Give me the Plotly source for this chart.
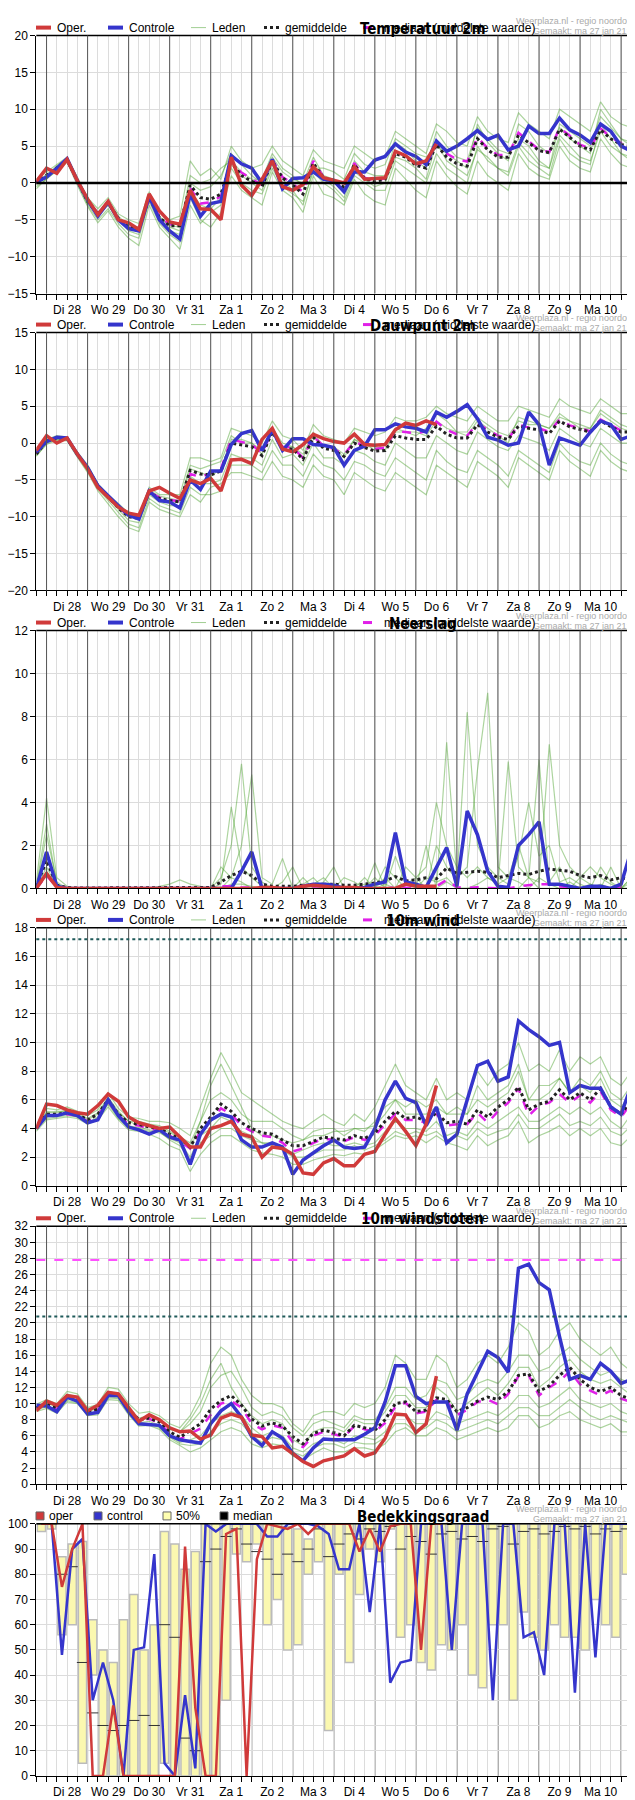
import plotly.graph_objects as go

W, H = 635, 1800
DAYS = ["Di 28","Wo 29","Do 30","Vr 31","Za 1","Zo 2","Ma 3","Di 4","Wo 5","Do 6","Vr 7","Za 8","Zo 9","Ma 10"]

# ---- Temperatuur 2m
T_ctrl = [0.1,0.8,2,3.3,0.3,-2.3,-4.5,-2.6,-5,-6.2,-6.5,-1.8,-5,-6.5,-7.6,-1.5,-4.5,-2.8,-2.5,3.7,2.6,2,0,3.2,-0.8,0.6,0.7,1.5,0.5,0.3,-1.2,1.5,1.5,3.1,3.6,5.3,4.2,3.6,2.5,5.7,4.3,5,6,7.1,5.9,6.5,4.5,5,7.7,6.7,6.7,8.8,7.2,6.5,5.5,8,7,5,4.3,6.5]
T_oper = [0.2,2,1.3,3.2,0.3,-2.2,-4.3,-2.5,-5,-5.4,-6.3,-1.5,-3.8,-5.3,-5.6,-1,-3.5,-3.6,-5,3.5,-0.3,-1.7,0.5,3,-0.5,-1,-0.2,2.2,0.7,0.4,0,2.2,0.5,0.6,0.7,4.3,3.7,2.6,3,5.3]
T_mean = [0,1,2,3.1,0.3,-2.5,-4.2,-2.7,-4.8,-6,-6.2,-2,-4.7,-5.8,-5.8,-0.3,-2,-2.2,-1.5,2.8,1,0.2,-0.5,3,0.7,-0.3,-1.5,2.7,0.7,0.3,-0.6,2.5,0.6,0.2,0.5,4,3.5,2.4,2,5.2,3.5,2.6,2.3,6,4.5,3.5,3.5,6.5,5.5,4.4,4.1,7.3,6.2,5,4.5,7.2,6,5.2,5,8]
T_med = [0,1.1,2,3.1,0.4,-2.4,-4.1,-2.6,-4.9,-6.1,-6,-2.2,-4.5,-5.6,-5.7,-0.7,-2.8,-2.6,-1.8,3,1.4,0.5,-0.3,3.2,0.8,-0.1,-1.2,3,0.8,0.4,-0.4,2.7,0.7,0.3,0.6,4.2,3.7,2.7,2.2,5.4,4,3.2,2.9,6.2,4.7,3.8,3.8,6.8,5.7,4.5,4.2,7.5,6.4,5.2,4.7,7.4,6.2,5.4,5.2,8.3]
T_members = [
    [0.5,1.5,2.5,3.5,0.8,-2,-3.5,-2,-4.2,-5,-5.5,-1.2,-4,-5,-4.5,3,1,2,0.5,5,3,2,2.5,5,3,2,1,4.5,3,2.5,2,5,4,3,3.5,7,6,5,4,8,7,5.5,5,9,7,6,5.5,9.5,8,7,6,10,9,8,7,11,9,8,7.5,10],
    [-0.5,0.5,1.8,3,0,-3,-5,-3.5,-5.5,-7,-7.5,-2.5,-5.5,-7,-8,-2,-5,-6,-4,1,-1,-2,-3,1.5,-1,-2,-4,1,-1.5,-2,-3,0.5,-1.5,-2.5,-3,2,0.5,-1,-2,3,1,-0.5,-1.5,3,1,0,-1,4,2,1,0.5,5,3,2,1.5,6,4,2.5,2,5],
    [0,1.2,2.2,3.2,0.5,-2.2,-4,-2.5,-4.5,-5.8,-6,-1.5,-4.5,-6,-6.5,0,-1,-0.5,1,4,2.5,1,0,3.5,1.5,0.5,0,3.5,1,0.5,-1,3,1.5,1,1,5.5,4.5,3,2,7,5,3.5,3,7.5,6,4.5,4,6,5,3,2,8,7,6,5,9,7.5,6,5.5,9],
    [0.2,1,2,3,0.2,-2.8,-4.5,-3,-5,-6.5,-7,-2.2,-5,-6.5,-7,-1,-3,-3.5,-2,2,0,-1,-1.5,2,-0.5,-1.5,-2.5,1.5,0,-1,-2.5,1,0,-1,-1,3,2,1,0,4,2,1,0,5,3,2,1.5,5.5,4,2.5,2,6.5,5,3.5,3,7,5,4,3,7],
    [-0.2,0.8,2.3,3.4,0.6,-2.4,-4.2,-2.8,-4.8,-6,-6.2,-1.8,-4.6,-5.8,-6,1,0,0.5,2,3,1.5,0.5,0.5,4,2,1,-0.5,2,2,1.5,0.5,4,2.5,2,2.5,6,5,4,3.5,5,4,3,2,8,5.5,4,3,8,7,5,4,7.5,6,5,4,10,8,6,5,11],
    [-0.8,0.6,1.6,2.8,-0.3,-3.2,-5.4,-3.8,-6,-7.5,-8.5,-3,-6,-7.5,-9,-3,-5.5,-4,-3,2.5,1,0,-1,2.5,0.5,-1,-3,2,0.5,-0.5,-2,1.5,0.5,-0.5,0,3.5,3,2,0.5,5.5,3,2,1,4.5,3.5,2,1,5,3,2,1,6,4,3,2.5,8,6,4,3.5,8],
]

# ---- Dauwpunt 2m
D_ctrl = [-1.2,0.2,0.8,0.7,-1.5,-3.3,-5.8,-7.2,-8.5,-9.8,-10.3,-6.5,-7.8,-8,-8.8,-5,-6.3,-3.8,-3.8,-0.2,1.3,1.7,-1,1.8,-1,0.6,0.6,-0.2,-0.3,-0.6,-3,-1,-0.4,1.8,1.8,2.6,2.2,2,1.5,4.2,3.5,4.3,5.2,3.3,0.8,0.4,-0.3,0,4.2,2.5,-3,0.7,0.2,-0.3,1.5,3,2.5,0.5,1,5.5]
D_oper = [-1,1,0,0.7,-1.5,-3.5,-6,-7.3,-8.7,-9.5,-9.8,-6.5,-6,-6.8,-7.5,-5,-5.5,-4.8,-6.5,-2.3,-2.2,-2.8,0.5,2,-0.8,-1.2,-0.2,1.2,0.6,0.2,0,1.2,-0.2,-0.3,-0.2,1.8,2.7,2.4,3,2.5]
D_mean = [-1.5,0.3,0.7,0.6,-1.5,-3.4,-5.8,-7.3,-8.8,-10,-10.2,-6.7,-7.5,-7.8,-8,-3.7,-4.2,-4.3,-3.8,0,-0.3,-0.5,-1.7,1.5,-0.7,-0.8,-2.2,0.8,-0.7,-1,-1.8,0,-0.6,-1.1,-1,1,0.7,0.5,0.5,2.3,1.2,0.7,0.7,2.5,1.5,0.8,0.5,2.3,2,1.8,1.3,3,2.2,1.8,1.5,3,2.2,1.5,1.5,3]
D_med = [-1.4,0.4,0.7,0.6,-1.5,-3.4,-5.8,-7.2,-8.7,-9.9,-10.1,-6.6,-7.4,-7.7,-7.9,-4.2,-4.6,-4.1,-3.5,0.5,0.1,-0.2,-1.4,1.7,-0.5,-0.6,-2,0.9,-0.4,-0.8,-1.6,0.2,-0.4,-0.8,-0.6,1.6,1.5,1.3,1.6,2.9,1.8,1.2,1,2.7,1.8,1,0.6,2.5,2.1,2,1.5,3.2,2.4,2,1.6,3.2,2.4,1.7,1.6,3.2]
D_members = [
    [-1,0.5,1,0.8,-1.2,-3,-5.5,-7,-8.2,-9.5,-9.8,-6,-7,-7,-7,-2,-2,-2.5,-2,2,1.5,1,0,3,1,0.5,-1,2.5,1,0.5,0,2,1.5,1,1.5,3.5,3,3,3.5,5,4,3.5,3,5,4,3,3,5,4.5,4,3.5,6,5,4.5,4,6,5,4,4,7],
    [-1.8,0,0.5,0.4,-1.8,-3.8,-6.2,-7.8,-9.5,-11,-11.5,-7.5,-8.5,-9,-9.5,-6,-7,-7,-6.5,-3,-3,-3,-4,-1,-3,-3,-4.5,-1.5,-3,-3.5,-5,-2.5,-3,-4,-4.5,-2,-3,-4,-5,-1,-2.5,-3.5,-4,-1,-2,-3,-4.5,-1,-2,-3,-4,0,-1.5,-2.5,-3,0,-1.5,-2.5,-3,0],
    [-1.4,0.4,0.9,0.7,-1.4,-3.2,-5.6,-7.1,-8.6,-9.8,-10,-6.4,-7.2,-7.5,-7.8,-3,-3.5,-3,-2.5,1,0,0,-1,2,0,-0.5,-1.5,1.5,-0.5,-0.5,-1.5,0.5,0,-1,0,2,1.5,1,2,4,3,1.5,1,3,2,1,0,3.5,3,2.5,2,4,3,2.5,2,4.5,3.5,2.5,2,5],
    [-1.6,0.1,0.6,0.5,-1.6,-3.6,-6,-7.5,-9,-10.5,-10.8,-7,-8,-8.5,-8.5,-4.5,-5.5,-5.5,-5,-1.5,-2,-2,-3,0.5,-2,-1.5,-3,0,-2,-2,-3,-1,-1.5,-2.5,-3,0,-1,-2,-2,1,0,-1,-1.5,1.5,0.5,-0.5,-1,1,0.5,0,-1,2,1,0,-0.5,2,1,0,0,2.5],
    [-1.3,0.3,0.8,0.6,-1.3,-3.3,-5.7,-7.2,-8.7,-10,-10.3,-6.7,-7.7,-8,-8,-3.5,-4,-4.5,-3.5,0.5,0.5,0,-1.5,1.5,-0.5,-0.5,-2,1,-0.5,-0.5,-2,0.5,-0.5,-0.5,-1,1.5,1.5,1.5,1,3,2,1.5,1.5,3.5,2.5,1.5,1,3,2.5,2.5,2,3.5,3,2,2,4,3,2,1.5,4],
    [-1.7,-0.2,0.4,0.3,-1.9,-4,-6.5,-8.2,-10,-11.5,-12,-8,-9,-9.5,-10,-7,-8,-6,-5.5,-4,-4,-4.5,-5,-2.5,-4.5,-5,-6,-3,-4.5,-5,-7,-4,-5,-6,-6.5,-4,-5,-6,-7,-3,-4,-5,-6,-2.5,-3.5,-4.5,-6,-2,-3,-4,-5,-1,-2.5,-3.5,-4.5,-1,-2.5,-3.5,-4,-1],
]

# ---- Neerslag
P_ctrl = [0,1.7,0.1,0,0,0,0,0,0,0,0,0,0,0,0,0,0,0,0,0,0.8,1.7,0,0,0,0,0.1,0.2,0.2,0.15,0,0,0.05,0.2,0.3,2.6,0.3,0.2,0.05,1,1.9,0.1,3.6,2.5,0.8,0.1,0.05,2,2.5,3.1,0.2,0.2,0.1,0,0.1,0.1,0,0.2,1.8,5.4]
P_oper = [0,0.7,0.05,0,0,0,0,0,0,0,0,0,0,0,0,0,0,0,0,0,0,0,0.05,0.05,0,0,0.1,0.15,0.1,0.05,0.05,0.05,0,0,0,0,0.2,0.1,0.1,0.1]
P_mean = [0.1,1.3,0.15,0.05,0.02,0.02,0.02,0.02,0.02,0.02,0.02,0.02,0.02,0.03,0.05,0.05,0.05,0.05,0.3,0.6,0.8,0.6,0.2,0.1,0.1,0.1,0.15,0.15,0.2,0.2,0.15,0.15,0.2,0.25,0.35,0.55,0.35,0.4,0.5,0.45,0.95,0.7,0.75,0.8,0.75,0.5,0.6,0.7,0.65,0.8,0.9,0.85,0.8,0.6,0.5,0.6,0.4,0.5,0.4,0.6]
P_med = [0,0.6,0.05,0,0,0,0,0,0,0,0,0,0,0,0,0,0,0,0.1,0.1,0.05,0.05,0,0,0,0,0.02,0.02,0.02,0.02,0,0,0,0,0,0.05,0.02,0.02,0.05,0.1,0.4,0.05,0.02,0.05,0.02,0,0,0.1,0.15,0.2,0.2,0.1,0.05,0,0.05,0.1,0,0.05,0.05,0.1]
P_members = [
    [0,2.5,0.3,0,0,0,0,0,0,0,0,0,0,0,0,0,0,0,0.5,2,5.8,1,0.3,0,0,0,0.5,0,0.3,1,0,0,0.5,0,1,0.5,0,0,2,0,6.8,0.5,1,5.5,9.1,1,0.5,2,0.5,6,0.3,1,0,0.5,0.2,0,1,0,0.5,1],
    [0.3,4.2,0.5,0.1,0,0,0,0,0,0,0,0,0.1,0.2,0.4,0.2,0.1,0,1,0.5,2,5.3,0.5,0.2,1.4,0,0.2,0.5,0,0,0.5,0.3,0,1.2,0,1.5,0.2,0.5,0,2,1,0.4,8.2,2,1,0.5,0.2,1.5,4,1.5,2,0.3,0.5,0.2,0,1,0.3,0,0.5,0.2],
    [0,1,0.1,0,0,0,0,0,0,0,0,0,0,0,0,0,0,0,0.2,3.8,1,0.5,0.1,0,0.3,1,0,0.2,0.5,0,0,0,0.2,0,0.5,0,1,0.5,1,4,2,1,0.5,1,0.5,0.2,5.9,1,0.5,0.3,6.7,2,1,0.5,1,0.5,0.2,0,0.3,0.5],
    [0.1,3,0.2,0,0,0,0,0,0,0,0,0,0,0,0,0,0,0,0,0.5,0.3,0,0,0,0,0,0,0,0,0.2,0,0,0,0.5,0,0,0,0,0.5,0.3,0.5,0,0,0.2,0.5,0.2,0.5,0.3,0,0.5,0.2,0,0.3,0,0,0.2,0,0,0,0.3],
    [0,0.8,0.1,0,0,0,0,0,0,0,0,0,0,0,0,0,0,0,0,0.2,0.2,0.1,0,0,0,0,0,0,0,0,0,0,0,0,0.2,0,0,0.2,0,0,0.3,0,0,0,0,0,0,0,0.5,0,0,0,0,0,0.2,0,0,0,0,0],
]

# ---- 10m wind
W_ctrl = [4,4.9,4.9,5.1,4.9,4.4,4.6,6,4.9,4.1,3.9,3.6,3.9,3.4,3.2,1.5,3.6,4.6,5,4.8,3.2,2.7,2.7,3,2.7,0.8,1.8,2.3,2.8,3.2,2.7,2.6,2.7,4,6,7.3,6.1,5.8,4.2,5.5,3,3.6,6.1,8.4,8.7,7.3,7.6,11.5,10.9,10.4,9.8,10,6.5,7,6.8,6.8,5.5,5,7,7.7]
W_oper = [4,5.7,5.6,5.3,5.1,5,5.6,6.4,5.9,4.8,4.4,4.2,4,4.1,3.4,2.7,2.7,4,4.2,4.5,3.6,3.4,2,2.7,2.6,2.2,0.9,0.8,1.6,1.9,1.4,1.4,2.2,2.4,3.6,4.7,3.8,2.8,4.3,7]
W_mean = [4,5,5,5.1,5,4.6,5,6,5,4.4,4.3,4.1,4,3.6,3.3,2.7,4,4.8,5.7,5.2,4.4,4,3.7,3.6,3.2,2.8,2.8,3.1,3.4,3.3,3.2,3.5,3.3,3.7,4.5,5.2,4.7,4.8,4.5,5.1,4.4,4.5,4.3,5.3,4.8,5.5,6,6.9,5.3,5.7,5.9,6.7,6,6.5,6,6.8,5.5,5,6,6.8]
W_med = [4,4.9,4.9,5,4.9,4.5,4.9,5.9,4.9,4.3,4.2,4,3.9,3.5,3.1,2.6,3.8,4.6,5.4,5,4.2,3.8,3.5,3.4,3,2.4,2.6,3,3.3,3.2,3.1,3.4,3.2,3.5,4.3,5,4.6,4.6,4.4,5,4.2,4.3,4.3,5.1,4.4,5.2,5.8,6.8,4.9,5.6,5.8,6.4,5.8,6.3,5.8,6.6,5.3,4.8,5.8,6.5]
W_members = [
    [4.2,5.4,5.3,5.5,5.2,4.9,5.3,6.5,5.4,4.8,4.7,4.5,4.5,4.4,4,3.5,5.5,7.5,9.3,8,6.5,6,5.5,5,4.5,4.2,4,4.5,5,4.5,4.2,5,4.5,5.5,7,8.5,7,6.5,6,7.5,6,6.5,6,8,7,8,8.5,10,8,8.5,8,9.5,8,9,8.5,9,7.5,7,8,9],
    [3.8,4.6,4.7,4.8,4.7,4.3,4.6,5.5,4.6,3.9,3.8,3.6,3.3,2.8,2.5,1,2.2,3,3.5,3.5,3,2.5,2.3,2.2,2,1.5,1.5,1.8,2,2.2,2.1,2.3,2.2,2.5,3,3.5,3.3,3.5,3,3.5,3,2.8,2.5,3.5,2.8,3.2,3.5,4.5,3,3.5,3.8,4.2,3.5,4,3.5,4,3,2.8,3.5,4],
    [4.1,5.1,5.2,5.2,5.1,4.7,5.1,6.2,5.2,4.5,4.5,4.3,4.2,3.8,3.5,2.5,4.5,6,6.5,6,5,4.5,4.5,4.5,4,3.5,3.2,3.8,4,4,3.5,4,3.8,4.5,5.5,6,5.5,6,5.5,6,5,5.5,5,7,6,6.5,7,8.5,6,7,7,7.5,6.5,7.5,7,8,6.5,6,7,8],
    [3.9,4.8,4.9,5,4.8,4.4,4.8,5.8,4.8,4.2,4,3.8,3.7,3.3,3,2,3.5,4,4.8,4.5,3.8,3.5,3,3,2.8,2.2,2.5,2.8,3,2.8,2.8,3,2.8,3,3.8,4.5,4,4,3.8,4.5,3.5,3.8,3.5,4.5,4,4.5,5,5.5,4.5,4.5,5,5.5,5,5.5,5,5.5,4.5,4,5,5.5],
    [4,5.2,5.1,5.3,5,4.6,5,6.1,5.1,4.5,4.2,4.2,4,3.7,3.4,3,4.5,7,8.5,7,5.5,4,3.5,3.5,3.2,3,3.2,3.5,3.5,3.8,3.8,4,4,4.2,5,6,5,5,5,5.5,5,5,5,6,5.5,6,6.5,8,6,6,6.5,7.5,6.5,7,6.5,7.5,6,5.5,6.5,7.5],
    [4,4.7,4.8,4.9,4.8,4.4,4.7,5.7,4.7,4.1,4.1,3.9,3.8,3.2,2.8,1.8,3,3.5,4,4,3.5,3.2,3,2.8,2.5,2,2,2.2,2.5,2.5,2.5,2.8,2.5,2.8,3.2,3.8,3.5,3.8,3.5,3.8,3.2,3.5,3.2,4,3.5,3.8,4,5,4,4,4.5,5,4.2,4.5,4.2,4.8,3.8,3.5,4.2,5],
]

# ---- 10m windstoten
G_ctrl = [9.8,9.7,9,10.8,10.3,8.7,8.9,11,11,9,7.5,7.4,7.3,6,5.5,5.3,5.1,7.5,9.1,10,8.3,5.9,4.8,6.5,5.7,3.8,2.9,4.5,5.6,5.5,5.5,5.5,6.2,7,10.2,14.7,14.7,10.9,10,10.2,10.2,6.7,11.2,13.9,16.5,15.7,13.9,26.8,27.3,25,24.1,18.3,13,13.5,13,15,14,12.5,13,17]
G_oper = [9.1,10.3,9.8,11,10.8,9.1,9.8,11.4,11.2,9.5,7.8,8.6,8,7,6.5,6.6,5.6,6.1,8.2,8.7,8.3,6.1,5.9,4.5,4.7,3.8,2.8,2.2,2.9,3.2,3.5,4.4,3.5,3.9,5.7,8.7,8.6,6.4,7.5,13.4]
G_mean = [9.5,10,9.4,10.9,10.6,9,9.3,11.2,11,9.3,8,8.2,7.7,6.5,5.8,6.6,7.5,9.3,10.4,11,9.8,8.1,7.2,7.6,7.2,5.9,5,6.3,6.7,6.4,6,7.3,7,6.7,8,10,10.2,9,9.2,10.7,10.5,9,9.5,10.3,10.8,10.5,11.5,13.5,13.7,11.5,12.2,13.5,14.5,13,12,11.5,12,11,10.5,12.5]
G_med = [9.4,9.9,9.3,10.8,10.5,8.9,9.2,11.1,10.9,9.2,7.9,8.1,7.6,6.3,5.6,6.3,6.9,8.6,10,10.3,9.5,7.5,6.8,7.3,7,5.2,4.6,6,6.5,6.2,5.9,7.2,6.8,6.5,7.6,9.6,10.1,8.8,9,10.5,10.3,8.6,9.2,10.2,10.5,9.9,11.2,13.4,13.5,11,12,12.8,14,12.4,11.6,11,11.6,10.6,10.2,12]
G_members = [
    [9.9,10.5,10,11.5,11.2,9.5,9.9,12,11.8,10,8.8,9,8.5,7.5,7,8.5,11,15,17,16,13,11,10,10,9.5,7.5,6.5,8.5,9,9,8.5,10,9.5,10,12,16,15,13,13,16,15,12,13,15,16,15,17,20,19,16,17,19,20,18,17,16,17,15,14,18],
    [9,9.4,8.8,10.2,10,8.5,8.6,10.5,10.4,8.6,7.2,7.3,6.8,5.5,4.8,4,4.5,5.5,6.5,7,6.5,5,4.5,5,4.8,3.5,3,3.8,4.5,4,4,4.5,4.5,4.2,5,6.5,7,6,6,7,6.5,5.5,6,6.5,7,6.5,7,8.5,8.5,7,7.5,8.5,9,8,7.5,7,7.5,6.5,6.5,7.5],
    [9.6,10.2,9.6,11.2,10.8,9.2,9.5,11.5,11.2,9.5,8.2,8.5,8,7,6.5,7.5,9,12,13.5,14,12,9.5,8.5,9,8.5,7,6,7.5,8,7.5,7,8.5,8,8,9.5,12,12,10.5,11,13,12.5,10.5,11,12.5,13,12.5,14,16,16,14,14.5,16,17,15.5,14.5,13.5,14,13,12.5,15],
    [9.3,9.7,9.2,10.6,10.3,8.8,9,10.9,10.7,9,7.6,7.8,7.3,6,5.2,5.5,6,7.5,8.5,9,8.5,7,6,6.5,6,4.5,4,5,5.5,5.5,5,6,5.8,5.5,6.5,8.5,8.5,7.5,7.5,9,8.5,7.5,8,8.5,9,8.5,9.5,11,11,9.5,10,11,12,10.5,10,9.5,10,9,8.5,10],
    [9.5,10.1,9.5,11,10.7,9,9.4,11.3,11.1,9.4,8,8.4,7.9,6.8,6.5,8,10,13,15,12,10,8.5,7.5,8,7.5,5.5,4.8,6.5,7,7,6.5,8,7.5,7.5,9,11,11,9.5,9.5,12,11,9,10,11,12,11,12.5,14.5,14.5,12,13,14.5,15.5,14,13,12.5,13,12,11,13.5],
    [9.2,9.6,9,10.4,10.1,8.7,8.8,10.7,10.6,8.8,7.4,7.5,7,5.8,5,4.8,5,6.5,7.5,8,7.5,6,5.2,5.8,5.5,4,3.5,4.5,5,5,4.5,5.2,5,5,5.8,7.5,7.5,6.5,7,8,7.5,6.5,7,7.5,8,7.5,8.5,9.5,9.5,8.5,8.5,9.5,10.5,9.5,8.5,8,8.5,8,7.5,9],
]

# ---- Bedekkingsgraad
C_lo = [97,98,56,60,5,40,0,0,0,0,0,0,5,0,0,0,0,0,30,88,85,92,60,70,50,52,80,85,18,80,45,72,90,85,98,55,60,45,42,52,50,60,40,35,60,60,30,65,55,50,60,55,55,50,70,60,55,80,82]
C_hi = [100,100,87,92,93,62,50,45,62,72,50,60,97,92,82,89,100,100,100,100,100,100,100,100,99,98,94,100,100,100,100,100,100,100,100,100,100,100,100,100,100,100,100,100,100,100,100,100,100,100,100,100,100,100,100,100,100,100,100]
C_med = [100,100,80,83,45,25,20,18,20,22,24,20,60,55,15,10,85,90,95,98,92,89,86,80,88,85,90,98,87,92,96,94,98,97,99,90,95,93,88,96,97,94,95,93,98,99,92,97,98,96,97,99,98,99,96,98,97,98,99]
C_ctrl = [100,100,48,90,94,30,45,30,0,50,51,88,5,0,32,3,100,97,100,100,100,100,95,95,100,100,100,99,96,82,82,100,65,100,37,45,46,100,100,100,50,100,100,100,30,100,100,55,57,40,100,100,33,100,47,100,100,100,100]
C_oper = [100,100,75,90,100,0,0,28,0,0,0,0,0,0,91,27,0,0,96,98,0,86,100,99,98,100,96,100,100,100,100,89,98,89,99,100,100,50,100,100]

TITLES = ["Temperatuur 2m", "Dauwpunt 2m", "Neerslag", "10m wind", "10m windstoten", "Bedekkingsgraad"]
RANGES = [(-15, 20, 5), (-20, 15, 5), (0, 12, 2), (0, 18, 2), (0, 32, 2), (0, 100, 10)]
TOPS = [20.7, 320, 620.3, 920, 1220.7, 1520.7]
PHS = [260, 260, 260, 260, 260, 254]
XL, XR = 28.3, 633.6

RED, BLUE, GREEN, MAG = "#d03a3a", "#3535cc", "rgba(70,160,40,0.45)", "#e020e8"

def px(x): return x / W
def py(y): return 1 - y / H

fig = go.Figure()
layout = {}
shapes, annos = [], []

panels = [
    (T_members, T_oper, T_ctrl, T_mean, T_med),
    (D_members, D_oper, D_ctrl, D_mean, D_med),
    (P_members, P_oper, P_ctrl, P_mean, P_med),
    (W_members, W_oper, W_ctrl, W_mean, W_med),
    (G_members, G_oper, G_ctrl, G_mean, G_med),
]

for i in range(6):
    n = i + 1
    xa, ya = ("x" if n == 1 else f"x{n}"), ("y" if n == 1 else f"y{n}")
    top = TOPS[i]
    PH = PHS[i]
    lo, hi, dt = RANGES[i]
    layout["xaxis" if n == 1 else f"xaxis{n}"] = dict(
        domain=[px(XL), px(XR)], anchor=ya, range=[0, 59], showgrid=False,
        tickvals=[3 + 4 * k for k in range(len(DAYS))], ticktext=DAYS,
        ticks="outside", ticklen=5, tickcolor="black",
        minor=dict(dtick=1, tick0=0, ticks="outside", ticklen=5, tickcolor="black",
                   showgrid=True, gridcolor="#dcdcdc", gridwidth=1),
        showline=True, linecolor="black", linewidth=1, mirror=False,
        tickfont=dict(size=12, color="black"), zeroline=False, fixedrange=True)
    layout["yaxis" if n == 1 else f"yaxis{n}"] = dict(
        domain=[py(top + PH), py(top)], anchor=xa, range=[lo, hi], dtick=dt, tick0=lo,
        showgrid=True, gridcolor="#dcdcdc", zeroline=False,
        ticks="outside", ticklen=5, tickcolor="black",
        showline=True, linecolor="black", linewidth=1,
        tickfont=dict(size=12, color="black"), fixedrange=True)
    shapes.append(dict(type="line", xref="paper", yref="paper", x0=px(XL), x1=px(XR),
                       y0=py(top), y1=py(top), line=dict(color="black", width=1.5)))
    for k in range(15):
        shapes.append(dict(type="line", xref=xa, yref=f"{ya} domain", x0=1 + 4 * k, x1=1 + 4 * k,
                           y0=0, y1=1, line=dict(color="#555", width=1), layer="above" if i < 5 else "below"))
    hy = py(top - 8)
    annos.append(dict(xref="paper", yref="paper", x=px(633), y=py(top - 15), text="Weerplaza.nl - regio noordoost",
                      showarrow=False, xanchor="right", yanchor="middle", font=dict(size=9, color="#aaa")))
    annos.append(dict(xref="paper", yref="paper", x=px(633), y=py(top - 5), text="Gemaakt: ma 27 jan 21:48",
                      showarrow=False, xanchor="right", yanchor="middle", font=dict(size=9, color="#aaa")))
    if i < 5:
        items = [("Oper.", RED, 4, "solid", 28), ("Controle", BLUE, 4, "solid", 100),
                 ("Leden", "rgba(70,160,40,0.5)", 1, "solid", 183), ("gemiddelde", "#222", 3, "dot", 256),
                 ("mediaan (middelste waarde)", MAG, 3, "dash", 355)]
        for txt, col, wd, dash, x0 in items:
            shapes.append(dict(type="line", xref="paper", yref="paper", x0=px(x0), x1=px(x0 + 15),
                               y0=hy, y1=hy, line=dict(color=col, width=wd, dash=dash)))
            annos.append(dict(xref="paper", yref="paper", x=px(x0 + 19), y=hy, text=txt, showarrow=False,
                              xanchor="left", yanchor="middle", font=dict(size=12, color="black")))
    else:
        items = [("oper", RED, 28), ("control", BLUE, 86), ("50%", "#ffffb0", 155), ("median", "black", 212)]
        for txt, col, x0 in items:
            shapes.append(dict(type="rect", xref="paper", yref="paper", x0=px(x0), x1=px(x0 + 8),
                               y0=py(top - 12), y1=py(top - 4), fillcolor=col, line=dict(color="#666", width=1)))
            annos.append(dict(xref="paper", yref="paper", x=px(x0 + 11), y=hy, text=txt, showarrow=False,
                              xanchor="left", yanchor="middle", font=dict(size=12, color="black")))
    annos.append(dict(xref="paper", yref="paper", x=px(415), y=py(top - 7), text=f"<b>{TITLES[i]}</b>",
                      showarrow=False, xanchor="center", yanchor="middle",
                      font=dict(size=15, color="black", family="DejaVu Sans Condensed, DejaVu Sans")))

    if i < 5:
        members, oper, ctrl, mean, med = panels[i]
        for m in members:
            fig.add_trace(go.Scatter(x=list(range(len(m))), y=m, mode="lines", xaxis=xa, yaxis=ya,
                                     line=dict(color=GREEN, width=1.2), hoverinfo="skip"))
        fig.add_trace(go.Scatter(x=list(range(len(med))), y=med, mode="lines", xaxis=xa, yaxis=ya,
                                 line=dict(color=MAG, width=2.5, dash="dash")))
        fig.add_trace(go.Scatter(x=list(range(len(mean))), y=mean, mode="lines", xaxis=xa, yaxis=ya,
                                 line=dict(color="#222", width=3, dash="dot")))
        fig.add_trace(go.Scatter(x=list(range(len(ctrl))), y=ctrl, mode="lines", xaxis=xa, yaxis=ya,
                                 line=dict(color=BLUE, width=3.5)))
        fig.add_trace(go.Scatter(x=list(range(len(oper))), y=oper, mode="lines", xaxis=xa, yaxis=ya,
                                 line=dict(color=RED, width=3.5)))
    else:
        nb = min(len(C_lo), len(C_hi), len(C_med))
        xs = [k + 0.5 for k in range(nb)]
        fig.add_trace(go.Bar(x=xs, base=C_lo[:nb], y=[h - l for h, l in zip(C_hi[:nb], C_lo[:nb])],
                             xaxis=xa, yaxis=ya, width=0.8,
                             marker=dict(color="#fbf8b0", line=dict(color="#bbbbbb", width=1.5))))
        fig.add_trace(go.Scatter(x=xs, y=C_med[:nb], mode="markers", xaxis=xa, yaxis=ya,
                                 marker=dict(symbol="line-ew", size=8, line=dict(color="#333", width=1))))
        fig.add_trace(go.Scatter(x=[k + 0.5 for k in range(len(C_ctrl))], y=C_ctrl, mode="lines",
                                 xaxis=xa, yaxis=ya, line=dict(color=BLUE, width=2.5)))
        fig.add_trace(go.Scatter(x=[k + 0.5 for k in range(len(C_oper))], y=C_oper, mode="lines",
                                 xaxis=xa, yaxis=ya, line=dict(color=RED, width=2.5)))

shapes.append(dict(type="line", xref="x domain", yref="y", x0=0, x1=1, y0=0, y1=0, line=dict(color="black", width=2.5)))
shapes.append(dict(type="line", xref="x4 domain", yref="y4", x0=0, x1=1, y0=17.2, y1=17.2,
                   line=dict(color="#1f5a5a", width=2, dash="dot")))
shapes.append(dict(type="line", xref="x5 domain", yref="y5", x0=0, x1=1, y0=20.8, y1=20.8,
                   line=dict(color="#1f5a5a", width=2, dash="dot")))
shapes.append(dict(type="line", xref="x5 domain", yref="y5", x0=0, x1=1, y0=27.8, y1=27.8,
                   line=dict(color="#ff50ff", width=2, dash="dash")))

fig.update_layout(width=W, height=H, margin=dict(l=0, r=0, t=0, b=0), showlegend=False,
                  plot_bgcolor="white", paper_bgcolor="white",
                  font=dict(family="Liberation Sans, Arial, sans-serif"),
                  shapes=shapes, annotations=annos, bargap=0.2, **layout)
fig.write_html("out.html")
